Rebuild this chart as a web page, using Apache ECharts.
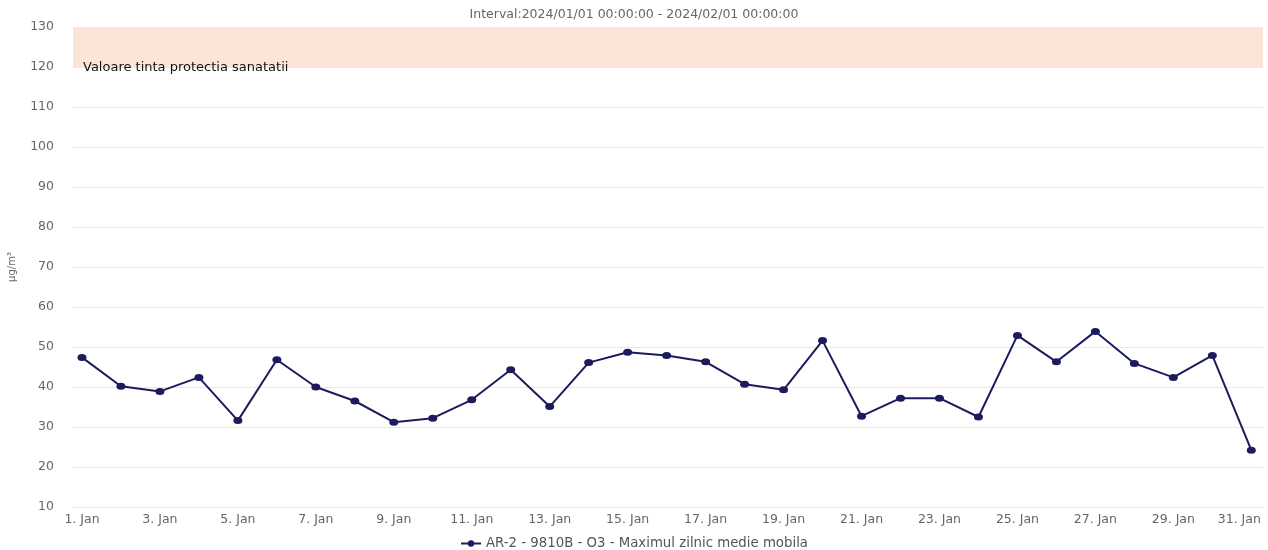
<!DOCTYPE html>
<html>
<head>
<meta charset="utf-8">
<script src="https://cdn.jsdelivr.net/npm/echarts@6/dist/echarts.min.js"></script>
<style>html,body{margin:0;padding:0;background:#fff;}#c{width:1268px;height:550px;}</style>
</head>
<body>
<div id="c"></div>
<script>
var days = [1,2,3,4,5,6,7,8,9,10,11,12,13,14,15,16,17,18,19,20,21,22,23,24,25,26,27,28,29,30,31];
var values = [47.4,40.2,38.9,42.4,31.6,46.8,40.0,36.5,31.2,32.2,36.8,44.3,35.1,46.1,48.7,47.9,46.3,40.7,39.3,51.6,32.7,37.2,37.2,32.5,52.9,46.3,53.9,45.9,42.4,47.9,24.2];
var tickDays = [1,3,5,7,9,11,13,15,17,19,21,23,25,27,29,31];
var seriesName = 'AR-2 - 9810B - O3 - Maximul zilnic medie mobila';
var titleText = 'Interval:2024/01/01 00:00:00 - 2024/02/01 00:00:00';
var bandLabel = 'Valoare tinta protectia sanatatii';
var bandRange = [120, 130];
var yName = 'µg/m³';

var chart = echarts.init(document.getElementById('c'));
var font = '"DejaVu Sans", "Liberation Sans", Arial, sans-serif';
var lastDay = tickDays[tickDays.length - 1];
chart.setOption({
  animation: false,
  textStyle: {fontFamily: font},
  title: {text: titleText, left: 'center', top: 3, textStyle: {fontSize: 12.5, fontWeight: 'normal', color: '#666', fontFamily: font}},
  legend: {top: 532, left: 'center', itemWidth: 20, itemHeight: 8, itemGap: 6, textStyle: {fontSize: 13.3, color: '#555', fontFamily: font}, data: [seriesName]},
  grid: {left: 73, right: 5, top: 27, bottom: 43, containLabel: false, outerBoundsMode: 'none'},
  xAxis: {
    type: 'value', min: 0.77, max: 31.3,
    axisLine: {show: true, lineStyle: {color: '#e6e6e6'}},
    axisTick: {show: false},
    splitLine: {show: false},
    axisLabel: {
      customValues: tickDays,
      formatter: function(v){ return v === lastDay ? '{last|' + v + '. Jan}' : v + '. Jan'; },
      color: '#666', fontSize: 12.5, margin: 6, fontFamily: font,
      rich: {last: {color: '#666', fontSize: 12.5, fontFamily: font, padding: [0, 24, 0, 0]}}
    }
  },
  yAxis: {
    type: 'value', min: 10, max: 130, interval: 10,
    name: yName, nameLocation: 'middle', nameGap: 56, nameRotate: 90,
    nameTextStyle: {fontSize: 10, color: '#666', fontFamily: font},
    axisLine: {show: false}, axisTick: {show: false},
    splitLine: {lineStyle: {color: '#e8e8e8', width: 1}},
    axisLabel: {color: '#666', fontSize: 12.5, margin: 19, fontFamily: font}
  },
  series: [{
    name: seriesName, type: 'line',
    data: days.map(function(d, i){return [d, values[i]];}),
    symbol: 'circle', symbolSize: [9, 7],
    lineStyle: {color: '#1c1b5e', width: 2},
    itemStyle: {color: '#1c1b5e'},
    markArea: {
      silent: true,
      itemStyle: {color: '#fde4d9'},
      label: {show: true, position: [10, 41], align: 'left', verticalAlign: 'middle', color: '#111', fontSize: 13, fontFamily: font},
      data: [[{yAxis: bandRange[0], name: bandLabel}, {yAxis: bandRange[1]}]]
    }
  }]
});
</script>
</body>
</html>
